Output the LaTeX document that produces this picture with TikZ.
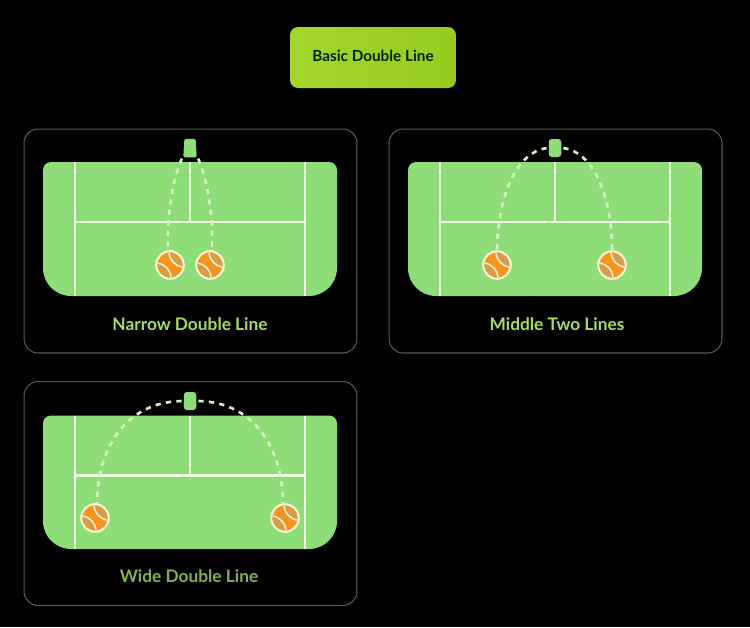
\documentclass[tikz,border=0pt]{standalone}
\usepackage{fontspec}
\setmainfont{Lato}
\usetikzlibrary{%
  shapes.geometric% wg. trapezium
}
\definecolor{courtgreen}{HTML}{8FDD78}
\definecolor{courtwhite}{HTML}{EEF9E2}
\definecolor{dashline}{HTML}{D6F3C4}
\definecolor{cardline}{HTML}{555C4C}
\definecolor{ballfill}{HTML}{F5941F}
\definecolor{ballseam}{HTML}{D99B45}
\definecolor{ballrim}{HTML}{F7F5CF}
\definecolor{labelgreen}{HTML}{A6DC5E}
\definecolor{titleleft}{HTML}{A4D62E}
\definecolor{titleright}{HTML}{98CB20}
\begin{document}
\begin{tikzpicture}
[x=0.02cm, y=-0.02cm, line width=0.6pt,
card/.style={rectangle, draw=cardline, rounded corners=2.8mm, minimum width=6.66cm, minimum height=4.48cm},
titlebox/.style={rectangle, rounded corners=1.6mm, draw=none, left color=titleleft, right color=titleright, minimum width=3.32cm, minimum height=1.22cm, text depth=1.5pt, font=\bfseries\fontsize{8.7}{10}\selectfont, text=black!85!green},
cardlabel/.style={font=\bfseries\fontsize{9.85}{11}\selectfont, text=labelgreen},
courtline/.style={draw=courtwhite, line width=1.6pt},
cone/.style={rectangle, fill=courtgreen, rounded corners=0.6mm, inner sep=0pt, outer sep=1.2pt, minimum width=2.5mm, minimum height=3.6mm},
conetop/.style={trapezium, trapezium left angle=84, trapezium right angle=84, trapezium stretches=true, fill=courtgreen, rounded corners=0.3mm, inner sep=0.5pt, outer sep=0.8pt, minimum width=2.7mm, minimum height=3.7mm},
ball/.style={circle, draw=ballrim, fill=ballfill, line width=1.2pt, inner sep=0pt, minimum size=5.5mm,
  path picture={
    \begin{scope}[shift={(path picture bounding box.center)}]
    \fill[ballseam] (-1,-12) to[bend right=35] (12,2) -- (20,2) -- (20,-20) -- (-1,-20) -- cycle;
    \fill[ballseam] (-12,-2) to[bend left=35] (1,12) -- (1,20) -- (-20,20) -- (-20,-2) -- cycle;
    \draw[ballrim, line width=0.9pt] (-1,-12) to[bend right=35] (12,2);
    \draw[ballrim, line width=0.9pt] (-12,-2) to[bend left=35] (1,12);
    \end{scope}
  }},
shot/.style={draw=dashline, line width=1.5pt, dash pattern=on 3pt off 3pt}]

\fill[black] (0,0) rectangle (750,627);
\useasboundingbox (0,0) rectangle (750,627);

\node[titlebox] (title) at (373,57.5) {Basic Double Line};

% narrow
\node[card] (c1) at (190.5,241) {};
\fill[courtgreen] (43,170) arc[start angle=180, end angle=90, x radius=8, y radius=-8] -- (329,162) arc[start angle=90, end angle=0, x radius=8, y radius=-8] -- (337,268) arc[start angle=0, end angle=-90, x radius=28, y radius=-28] -- (71,296) arc[start angle=270, end angle=180, x radius=28, y radius=-28] -- cycle;
\draw[courtline] (75,162) -- (75,296);
\draw[courtline] (305,162) -- (305,296);
\draw[courtline] (75,222) -- (305,222);
\draw[courtline] (190,162) -- (190,222);
\node[conetop] (n1) at (190,148) {};
\node[ball] (b1a) at (170,265) {};
\node[ball] (b1b) at (210,265) {};
\draw[shot] (n1.bottom left corner) .. controls (172,182) and (167,215) .. (b1a.98);
\draw[shot] (n1.bottom right corner) .. controls (208,182) and (213,215) .. (b1b.82);
\node[cardlabel] (l1) at (190,324) {Narrow Double Line};

% middle
\node[card] (c2) at (555.5,241) {};
\fill[courtgreen] (408,170) arc[start angle=180, end angle=90, x radius=8, y radius=-8] -- (694,162) arc[start angle=90, end angle=0, x radius=8, y radius=-8] -- (702,268) arc[start angle=0, end angle=-90, x radius=28, y radius=-28] -- (436,296) arc[start angle=270, end angle=180, x radius=28, y radius=-28] -- cycle;
\draw[courtline] (440,162) -- (440,296);
\draw[courtline] (670,162) -- (670,296);
\draw[courtline] (440,222) -- (670,222);
\draw[courtline] (555,162) -- (555,222);
\node[cone] (n2) at (555,148) {};
\node[ball] (b2a) at (497,265) {};
\node[ball] (b2b) at (612,265) {};
\draw[shot] (n2.west) .. controls (517,152) and (498,195) .. (b2a.north);
\draw[shot] (n2.east) .. controls (593,152) and (612,195) .. (b2b.north);
\node[cardlabel] (l2) at (557,324) {Middle Two Lines};

% wide
\node[card] (c3) at (190.5,493.5) {};
\fill[courtgreen] (43,423.5) arc[start angle=180, end angle=90, x radius=8, y radius=-8] -- (329,415.5) arc[start angle=90, end angle=0, x radius=8, y radius=-8] -- (337,521) arc[start angle=0, end angle=-90, x radius=28, y radius=-28] -- (71,549) arc[start angle=270, end angle=180, x radius=28, y radius=-28] -- cycle;
\draw[courtline] (75,415.5) -- (75,549);
\draw[courtline] (305,415.5) -- (305,549);
\draw[courtline] (75,475.5) -- (305,475.5);
\draw[courtline] (190,415.5) -- (190,475.5);
\node[cone] (n3) at (190,401) {};
\node[ball] (b3a) at (95,518) {};
\node[ball] (b3b) at (285,518) {};
\draw[shot] (n3.west) .. controls (125,402) and (97,450) .. (b3a.82);
\draw[shot] (n3.east) .. controls (255,402) and (283,450) .. (b3b.98);
\node[cardlabel, text=labelgreen!80!black] (l3) at (189,576) {Wide Double Line};

\end{tikzpicture}
\end{document}
